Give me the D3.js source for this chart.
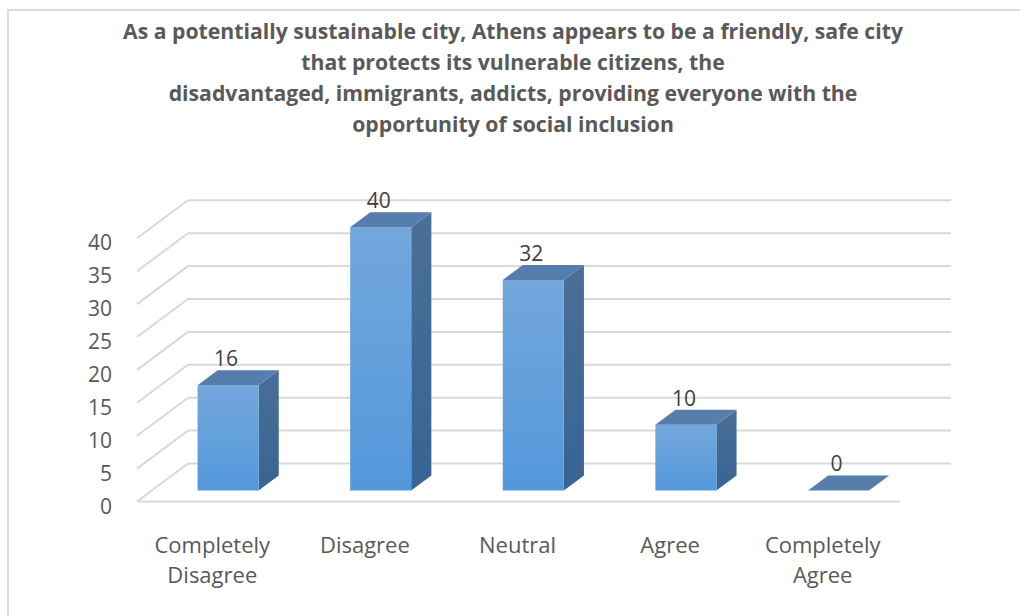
<!DOCTYPE html>
<html>
<head>
<meta charset="utf-8">
<script src="https://cdn.jsdelivr.net/npm/d3@7"></script>
<style>
  html, body { margin: 0; padding: 0; background: #ffffff; }
  svg { display: block; }
</style>
</head>
<body>
<svg id="chart" width="1020" height="616"></svg>
<script>
const titleLines = [
  "As a potentially sustainable city, Athens appears to be a friendly, safe city",
  "that protects its vulnerable citizens, the",
  "disadvantaged, immigrants, addicts, providing everyone with the",
  "opportunity of social inclusion"
];
const categories = ["Completely Disagree", "Disagree", "Neutral", "Agree", "Completely Agree"];
const categoryLines = [["Completely", "Disagree"], ["Disagree"], ["Neutral"], ["Agree"], ["Completely", "Agree"]];
const values = [16, 40, 32, 10, 0];
const yTicks = [0, 5, 10, 15, 20, 25, 30, 35, 40];

const svg = d3.select("#chart");
const textColor = "#595959";
const gridColor = "#d9d9d9";
const font = "'Open Sans', 'Noto Sans', sans-serif";

// frame border
svg.append("path")
  .attr("d", "M8,616 L8,10 L1020,10")
  .attr("fill", "none").attr("stroke", "#dcdcdc").attr("stroke-width", 2);

// 3D projection: depth vector for full depth of the plot
const depth = { dx: 51, dy: -38 };
const x = d3.scaleBand().domain(categories).range([137, 900]).paddingInner(0).paddingOuter(0);
const y = d3.scaleLinear().domain([0, 40]).range([501.5, 238.3]);
const proj = (px, py, z) => [px + depth.dx * z, py + depth.dy * z];

// gridlines: left wall diagonals + back wall horizontals
const grid = svg.append("g").attr("stroke", gridColor).attr("stroke-width", 2).attr("fill", "none");
const xBackEnd = x.range()[1];
yTicks.forEach(v => {
  const f = [x.range()[0], y(v)];
  const b = proj(f[0], f[1], 1);
  grid.append("line").attr("x1", f[0]).attr("y1", f[1]).attr("x2", b[0]).attr("y2", b[1]);
  const be = proj(xBackEnd, y(v), 1);
  grid.append("line").attr("x1", b[0]).attr("y1", b[1]).attr("x2", be[0]).attr("y2", be[1]);
});
// floor front edge
grid.append("line").attr("x1", x.range()[0]).attr("y1", y(0)).attr("x2", x.range()[1]).attr("y2", y(0));

// y tick labels
svg.append("g").selectAll("text").data(yTicks).join("text")
  .attr("x", 112).attr("y", d => y(d) + 4)
  .attr("text-anchor", "end").attr("dominant-baseline", "central")
  .attr("font-family", font).attr("font-size", 21).attr("fill", textColor)
  .text(d => d);

// gradients
const defs = svg.append("defs");
const gFront = defs.append("linearGradient").attr("id", "gFront").attr("x1", 0).attr("y1", 0).attr("x2", 0).attr("y2", 1);
gFront.append("stop").attr("offset", "0%").attr("stop-color", "#73a7dc");
gFront.append("stop").attr("offset", "100%").attr("stop-color", "#5398db");
const gSide = defs.append("linearGradient").attr("id", "gSide").attr("x1", 0).attr("y1", 0).attr("x2", 0).attr("y2", 1);
gSide.append("stop").attr("offset", "0%").attr("stop-color", "#4a6f98");
gSide.append("stop").attr("offset", "100%").attr("stop-color", "#386493");
const topColor = "#567ead";

// bars
const z0 = 0.29, z1 = 0.685, wFrac = 0.4;
const bars = svg.append("g");
values.forEach((v, i) => {
  const c = categories[i];
  const bx0 = x(c) + x.bandwidth() * (1 - wFrac) / 2;
  const bx1 = bx0 + x.bandwidth() * wFrac;
  const yb = y(0), yt = y(v);
  const P = (px, py, z) => proj(px, py, z).join(",");
  const fbl = P(bx0, yb, z0), fbr = P(bx1, yb, z0), ftl = P(bx0, yt, z0), ftr = P(bx1, yt, z0);
  const bbr = P(bx1, yb, z1), btl = P(bx0, yt, z1), btr = P(bx1, yt, z1);
  if (v > 0) {
    bars.append("path").attr("d", `M${fbr}L${bbr}L${btr}L${ftr}Z`).attr("fill", "url(#gSide)");
    bars.append("path").attr("d", `M${fbl}L${fbr}L${ftr}L${ftl}Z`).attr("fill", "url(#gFront)");
  }
  bars.append("path").attr("d", `M${ftl}L${ftr}L${btr}L${btl}Z`).attr("fill", topColor);
  const fc = proj((bx0 + bx1) / 2, yt, z0);
  bars.append("text")
    .attr("x", fc[0] - 2).attr("y", fc[1] - 19)
    .attr("text-anchor", "middle")
    .attr("font-family", font).attr("font-size", 21).attr("fill", "#404040")
    .text(v);
});

// category labels
const catG = svg.append("g");
categories.forEach((c, i) => {
  const cx = x(c) + x.bandwidth() / 2 - 1;
  const t = catG.append("text")
    .attr("x", cx)
    .attr("y", 553)
    .attr("text-anchor", "middle")
    .attr("font-family", font).attr("font-size", 22).attr("fill", textColor);
  categoryLines[i].forEach((ln, k) => {
    t.append("tspan").attr("x", cx).attr("dy", k === 0 ? 0 : 30).text(ln);
  });
});

// title (condensed horizontally to mimic the narrow original face)
const titleG = svg.append("g");
const baselines = [39, 70, 101, 132];
const tTexts = titleLines.map((ln, i) => titleG.append("text")
  .attr("x", 0).attr("y", baselines[i])
  .attr("text-anchor", "middle")
  .attr("font-family", font).attr("font-weight", "bold")
  .attr("font-size", 22).attr("fill", textColor)
  .text(ln));
const w0 = tTexts[0].node().getComputedTextLength();
const sx = 780 / w0;
titleG.attr("transform", `translate(513,0) scale(${sx},1)`);
</script>
</body>
</html>
